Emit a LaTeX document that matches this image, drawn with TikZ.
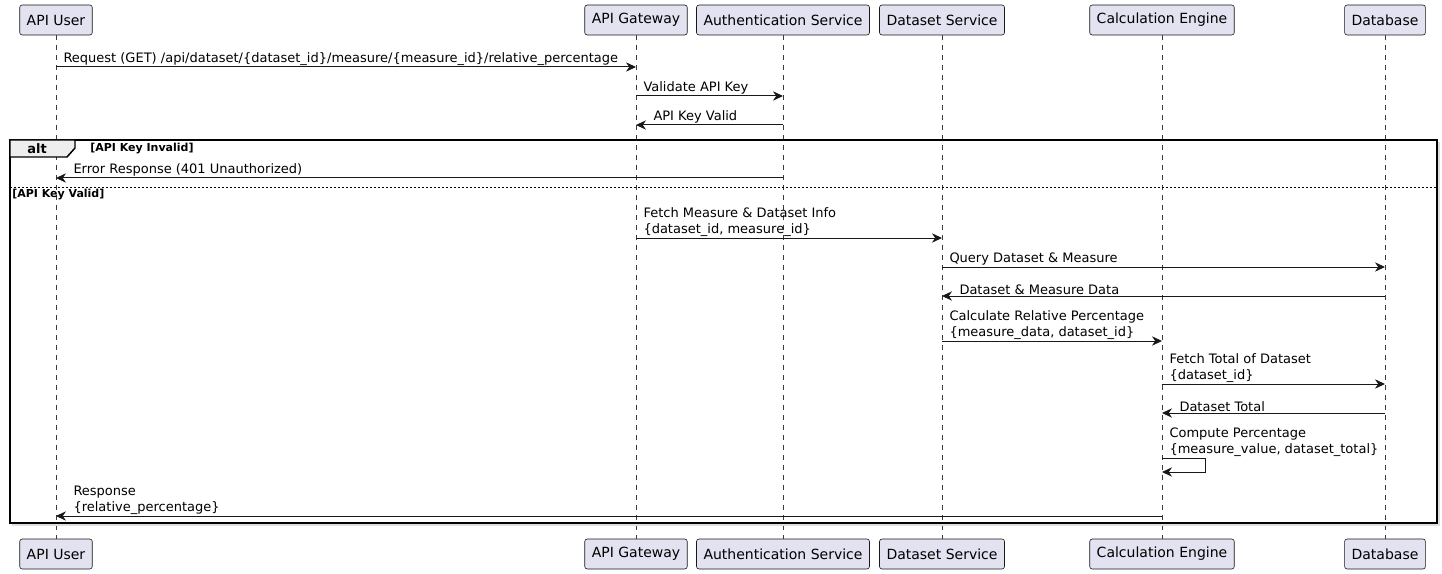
\documentclass[tikz,border=0pt]{standalone}
\usepackage{fontspec}
\setmainfont{DejaVu Sans}
\usetikzlibrary{arrows.meta, calc}

\definecolor{partfill}{HTML}{E2E2F0}
\definecolor{partline}{HTML}{181818}
\definecolor{tabfill}{HTML}{EEEEEE}

\tikzset{
  part/.style={draw=partline, fill=partfill, rounded corners=1.9pt, minimum height=22.5pt,
    inner xsep=5.25pt, font=\fontsize{10.5pt}{12pt}\selectfont, line width=0.45pt},
  life/.style={draw=partline!85, dash pattern=on 3.75pt off 3.75pt, line width=0.4pt},
  msg/.style={-{Stealth[length=7.5pt, width=7pt, inset=2.4pt]}, line width=0.75pt, draw=partline},
  lbl/.style={anchor=south west, inner sep=0pt, align=left, font=\fontsize{9.75pt}{12pt}\selectfont, yshift=0.9pt},
  lblR/.style={lbl, xshift=5.25pt},
  lblL/.style={lbl, xshift=12.75pt},
  cond/.style={inner sep=0pt, font=\bfseries\fontsize{8.25pt}{10pt}\selectfont},
}

\begin{document}
\begin{tikzpicture}[x=0.75pt, y=-0.75pt]
	\useasboundingbox (0,0) rectangle (1442,574);

	% participants, top and bottom
	\node[part] (usr)  at (56,20)   {API User};
	\node[part] (gw)   at (636,20)  {API Gateway};
	\node[part] (auth) at (783,20)  {Authentication Service};
	\node[part] (ds)   at (942,20)  {Dataset Service};
	\node[part] (calc) at (1162,20) {Calculation Engine};
	\node[part] (db)   at (1385,20) {Database};

	\node[part] (usrB)  at (56,554)   {API User};
	\node[part] (gwB)   at (636,554)  {API Gateway};
	\node[part] (authB) at (783,554)  {Authentication Service};
	\node[part] (dsB)   at (942,554)  {Dataset Service};
	\node[part] (calcB) at (1162,554) {Calculation Engine};
	\node[part] (dbB)   at (1385,554) {Database};

	% lifelines
	\foreach \p in {usr, gw, auth, ds, calc, db}
		\draw[life] (\p.south) -- (\p B.north);

	% messages before the alt block
	\draw[msg] (usr |- 0,67) node[lblR] (m1) {Request (GET) /api/dataset/\{dataset\_id\}/measure/\{measure\_id\}/relative\_percentage} -- (gw |- 0,67);
	\draw[msg] (gw |- 0,96) node[lblR] (m2) {Validate API Key} -- (auth |- 0,96);
	\draw[msg] (auth |- 0,125) -- (gw |- 0,125) node[lblL] (m3) {API Key Valid};

	% alt frame
	\draw[gray!25, line width=1pt] (12,525) -- (1439,525) -- (1439,142);
	\draw[line width=1.1pt] (10,140) rectangle (1437,523);
	\draw[fill=tabfill, line width=1.1pt] (10,140) -- (75,140) -- (75,148) -- (67,157) -- (10,157) -- cycle;
	\node[inner sep=0pt, font=\bfseries\fontsize{9.75pt}{12pt}\selectfont] (altlbl) at (37,149) {alt};
	\node[cond, anchor=west] (c1) at (90,149) {[API Key Invalid]};
	\draw[dash pattern=on 1.5pt off 1.5pt, line width=0.5pt] (10,187) -- (1437,187);
	\node[cond, anchor=west] (c2) at (12,195) {[API Key Valid]};

	\draw[msg] (auth |- 0,178) -- (usr |- 0,178) node[lblL] (m4) {Error Response (401 Unauthorized)};

	\draw[msg] (gw |- 0,238) node[lblR] (m5) {Fetch Measure \& Dataset Info\\\{dataset\_id, measure\_id\}} -- (ds |- 0,238);
	\draw[msg] (ds |- 0,267) node[lblR] (m6) {Query Dataset \& Measure} -- (db |- 0,267);
	\draw[msg] (db |- 0,296) -- (ds |- 0,296) node[lblL] (m7) {Dataset \& Measure Data};
	\draw[msg] (ds |- 0,341) node[lblR] (m8) {Calculate Relative Percentage\\\{measure\_data, dataset\_id\}} -- (calc |- 0,341);
	\draw[msg] (calc |- 0,384) node[lblR] (m9) {Fetch Total of Dataset\\\{dataset\_id\}} -- (db |- 0,384);
	\draw[msg] (db |- 0,413) -- (calc |- 0,413) node[lblL] (m10) {Dataset Total};
	% self call
	\draw[msg] (calc |- 0,458) node[lblR] (m11) {Compute Percentage\\\{measure\_value, dataset\_total\}} -- ++(43,0) -- ++(0,14) -- (calc |- 0,472);
	\draw[msg] (calc |- 0,516) -- (usr |- 0,516) node[lblL] (m12) {Response\\\{relative\_percentage\}};
\end{tikzpicture}
\end{document}
